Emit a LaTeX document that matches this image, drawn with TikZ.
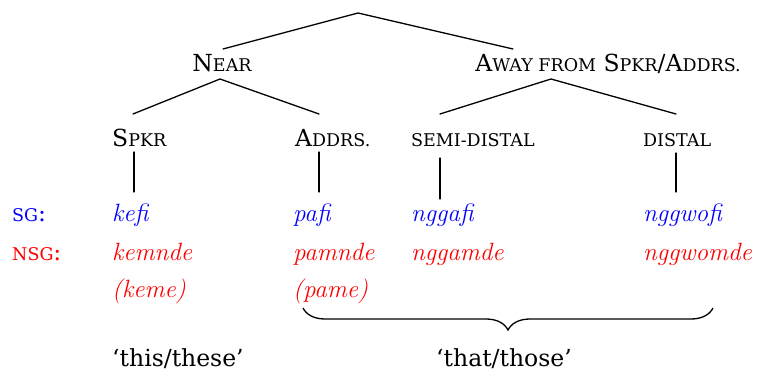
\documentclass[tikz,border=0pt]{standalone}
\usepackage{fontspec}
\setmainfont{DejaVu Serif}
\newfontfamily\lmfam{Latin Modern Roman}
\usetikzlibrary{decorations.pathreplacing}
\newcommand\bigf{\fontsize{23.5}{28}\selectfont}
\newcommand\itf{\lmfam\fontsize{25}{30}\selectfont\itshape}
\newcommand\scf{\fontsize{17.5}{20}\selectfont}
\tikzset{
  lab/.style={inner sep=0pt, font=\bigf},
  lw/.style={lab, anchor=base west},
  sgw/.style={lw, text=blue, font=\itf},
  nsgw/.style={lw, text=red, font=\itf},
  edge/.style={line width=1.3pt, line cap=round},
}
\begin{document}
\begin{tikzpicture}[x=1pt,y=-1pt]
\useasboundingbox (0,0) rectangle (757,374);
% labels
\node[lab, anchor=base] (near) at (222,72) {N{\scf EAR}};
\node[lab, anchor=base] (away) at (608,72) {A{\scf WAY FROM} S{\scf PKR}/A{\scf DDRS.}};
\node[lw] (spkr) at (112,147) {S{\scf PKR}};
\node[lw] (addrs) at (295,147) {A{\scf DDRS.}};
\node[lw] (semi) at (411,147) {{\scf SEMI-DISTAL}};
\node[lw] (distal) at (643,147) {{\scf DISTAL}};
% rows
\node[lw, text=blue] (sg) at (12,221) {{\scf SG}:};
\node[sgw] (kefi) at (112,221) {kefi};
\node[sgw] (pafi) at (293,221) {pafi};
\node[sgw] (nggafi) at (411,221) {nggafi};
\node[sgw] (nggwofi) at (643,221) {nggwofi};
\node[lw, text=red] (nsg) at (12,260) {{\scf NSG}:};
\node[nsgw] (kemnde) at (112,260) {kemnde};
\node[nsgw] (pamnde) at (293,260) {pamnde};
\node[nsgw] (nggamde) at (411,260) {nggamde};
\node[nsgw] (nggwomde) at (643,260) {nggwomde};
\node[nsgw] (keme) at (112,297) {(keme)};
\node[nsgw] (pame) at (293,297) {(pame)};
\node[lw] (this) at (112,366) {‘this/these’};
\node[lab, anchor=base] (that) at (504,366) {‘that/those’};
% tree coordinates
\coordinate (root) at (358,13);
\coordinate (nearT) at (223,49);
\coordinate (awayT) at (513,49);
\coordinate (nearB) at (220,79);
\coordinate (spkrT) at (133,114);
\coordinate (addrsT) at (319,114);
\coordinate (awayB) at (551,79);
\coordinate (semiT) at (440,114);
\coordinate (distalT) at (676,114);
\coordinate (spkrB) at (134,152);
\coordinate (kefiT) at (134,192);
\coordinate (addrsB) at (319,152);
\coordinate (pafiT) at (319,192);
\coordinate (semiB) at (440,158);
\coordinate (nggafiT) at (440,199);
\coordinate (distalB) at (676,153);
\coordinate (nggwofiT) at (676,192);
\coordinate (braceL) at (303,308);
\coordinate (braceR) at (713,308);
% edges
\draw[edge] (nearT) -- (root) -- (awayT);
\draw[edge] (spkrT) -- (nearB) -- (addrsT);
\draw[edge] (semiT) -- (awayB) -- (distalT);
\draw[edge] (spkrB) -- (kefiT);
\draw[edge] (addrsB) -- (pafiT);
\draw[edge] (semiB) -- (nggafiT);
\draw[edge] (distalB) -- (nggwofiT);
\draw[line width=1.3pt, decorate, decoration={brace, amplitude=22pt, mirror}] (braceL) -- (braceR);
\end{tikzpicture}
\end{document}
